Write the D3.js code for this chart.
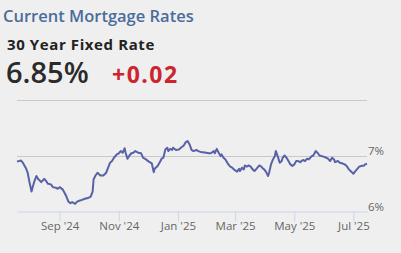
<!DOCTYPE html>
<html>
<head>
<meta charset="utf-8">
<script src="https://cdn.jsdelivr.net/npm/d3@7"></script>
<style>
  html, body { margin: 0; padding: 0; background: #efefef; }
  svg { display: block; }
</style>
</head>
<body>
<svg id="chart" width="401" height="253"></svg>
<script>
const title = "Current Mortgage Rates";
const subtitle = "30 Year Fixed Rate";
const currentRate = "6.85%";
const change = "+0.02";

const dates = [
  "2024-07-19","2024-07-23","2024-07-25","2024-07-28","2024-07-30","2024-08-01","2024-08-03","2024-08-04",
  "2024-08-06","2024-08-08","2024-08-10","2024-08-12","2024-08-13","2024-08-16","2024-08-18","2024-08-20",
  "2024-08-23","2024-08-25","2024-08-28","2024-08-30","2024-09-01","2024-09-04","2024-09-06","2024-09-08",
  "2024-09-10","2024-09-12","2024-09-14","2024-09-17","2024-09-19","2024-09-22","2024-09-24","2024-09-27",
  "2024-10-01","2024-10-03","2024-10-05","2024-10-06","2024-10-08","2024-10-10","2024-10-13","2024-10-16",
  "2024-10-19","2024-10-21","2024-10-23","2024-10-25","2024-10-27","2024-10-30","2024-11-01","2024-11-03",
  "2024-11-05","2024-11-07","2024-11-08","2024-11-10","2024-11-12","2024-11-14","2024-11-16","2024-11-18",
  "2024-11-21","2024-11-24","2024-11-26","2024-11-29","2024-12-02","2024-12-05","2024-12-07","2024-12-08",
  "2024-12-11","2024-12-14","2024-12-15","2024-12-17","2024-12-19","2024-12-21","2024-12-22","2024-12-24",
  "2024-12-26","2024-12-27","2024-12-30","2025-01-02","2025-01-04","2025-01-07","2025-01-09","2025-01-11",
  "2025-01-13","2025-01-15","2025-01-17","2025-01-20","2025-01-22","2025-01-25","2025-01-27","2025-01-30",
  "2025-02-02","2025-02-04","2025-02-07","2025-02-08","2025-02-10","2025-02-12","2025-02-14","2025-02-15",
  "2025-02-17","2025-02-19","2025-02-22","2025-02-24","2025-02-26","2025-03-01","2025-03-03","2025-03-05",
  "2025-03-06","2025-03-08","2025-03-10","2025-03-11","2025-03-13","2025-03-15","2025-03-17","2025-03-19",
  "2025-03-21","2025-03-24","2025-03-26","2025-03-28","2025-03-30","2025-03-31","2025-04-02","2025-04-04",
  "2025-04-05","2025-04-07","2025-04-09","2025-04-11","2025-04-12","2025-04-14","2025-04-16","2025-04-18",
  "2025-04-19","2025-04-21","2025-04-23","2025-04-25","2025-04-27","2025-04-29","2025-05-01","2025-05-03",
  "2025-05-05","2025-05-07","2025-05-10","2025-05-12","2025-05-14","2025-05-16","2025-05-19","2025-05-20",
  "2025-05-22","2025-05-23","2025-05-25","2025-05-27","2025-05-29","2025-05-31","2025-06-03","2025-06-05",
  "2025-06-07","2025-06-09","2025-06-11","2025-06-12","2025-06-15","2025-06-17","2025-06-19","2025-06-22",
  "2025-06-24","2025-06-26","2025-06-28","2025-06-30","2025-07-01","2025-07-03","2025-07-05","2025-07-07",
  "2025-07-09","2025-07-12","2025-07-13","2025-07-15"
];
const rates = [
  6.89,6.91,6.87,6.78,6.69,6.51,6.35,6.42,
  6.54,6.63,6.57,6.54,6.52,6.58,6.54,6.49,
  6.48,6.43,6.42,6.40,6.43,6.39,6.33,6.26,
  6.17,6.14,6.16,6.13,6.17,6.19,6.20,6.22,
  6.24,6.26,6.35,6.57,6.64,6.69,6.64,6.64,
  6.69,6.78,6.87,6.90,6.96,7.02,7.04,7.08,
  7.05,7.13,7.05,6.94,7.00,7.04,7.05,7.08,
  7.05,7.04,6.96,6.93,6.89,6.86,6.70,6.76,
  6.81,6.90,6.94,6.96,7.11,7.14,7.08,7.12,
  7.10,7.14,7.10,7.11,7.14,7.18,7.24,7.26,
  7.20,7.10,7.08,7.10,7.08,7.06,7.06,7.05,
  7.04,7.04,7.08,7.04,7.12,7.05,6.99,7.02,
  6.96,6.93,6.84,6.80,6.78,6.73,6.71,6.76,
  6.72,6.78,6.75,6.82,6.80,6.82,6.80,6.75,
  6.72,6.78,6.82,6.80,6.76,6.75,6.70,6.63,
  6.69,6.84,6.93,6.99,7.08,6.98,6.87,6.90,
  6.96,7.00,6.96,6.90,6.84,6.81,6.84,6.90,
  6.90,6.88,6.92,6.90,6.94,6.93,6.99,6.99,
  7.04,7.08,7.05,7.00,6.99,6.98,6.96,6.94,
  6.90,6.96,6.93,6.88,6.90,6.87,6.86,6.84,
  6.81,6.76,6.72,6.69,6.67,6.72,6.76,6.80,
  6.81,6.82,6.84,6.85
];
const xTickDates = ["2024-09-01","2024-11-01","2025-01-01","2025-03-01","2025-05-01","2025-07-01"];
const xTickLabels = ["Sep '24","Nov '24","Jan '25","Mar '25","May '25","Jul '25"];
const yTickValues = [6, 7, 8];
const yTickLabels = ["6%", "7%", ""];

const parse = d3.utcParse("%Y-%m-%d");
const data = dates.map((d, i) => ({ date: parse(d), rate: rates[i] }));

const svg = d3.select("#chart");
const font = "'Open Sans', sans-serif";

// Header texts
svg.append("text").attr("x", 3).attr("y", 22)
  .attr("font-family", font).attr("font-size", 16.5).attr("font-weight", 600).attr("fill", "#4a6d9c")
  .text(title);
svg.append("text").attr("x", 7).attr("y", 50)
  .attr("font-family", font).attr("font-size", 15).attr("font-weight", "bold").attr("fill", "#222")
  .attr("letter-spacing", 0.6)
  .text(subtitle);
svg.append("text").attr("x", 6).attr("y", 83)
  .attr("font-family", font).attr("font-size", 29).attr("font-weight", 600).attr("fill", "#2a2a2a")
  .text(currentRate);
svg.append("text").attr("x", 112).attr("y", 83)
  .attr("font-family", font).attr("font-size", 23).attr("font-weight", "bold").attr("fill", "#cc2530")
  .attr("letter-spacing", 1.5)
  .text(change);

const x = d3.scaleUtc()
  .domain(d3.extent(data, d => d.date))
  .range([17, 367]);
const y = d3.scaleLinear().domain([6, 8]).range([211, 100]);

// Gridlines
svg.append("g").selectAll("line")
  .data(yTickValues.filter(v => v !== 6))
  .join("line")
  .attr("x1", 17).attr("x2", 367)
  .attr("y1", d => Math.round(y(d)) + 0.5).attr("y2", d => Math.round(y(d)) + 0.5)
  .attr("stroke", "#c8c8c8").attr("stroke-width", 1);

// x axis
const xAxis = d3.axisBottom(x)
  .tickValues(xTickDates.map(parse))
  .tickFormat((d, i) => xTickLabels[i])
  .tickSizeInner(10).tickSizeOuter(0).tickPadding(0);
const gx = svg.append("g").attr("transform", "translate(0,211.5)").call(xAxis);
gx.select(".domain").attr("stroke", "#ccd6eb");
gx.selectAll(".tick line").attr("stroke", "#ccd6eb");
gx.selectAll(".tick text").attr("fill", "#666").attr("font-family", font).attr("font-size", 11.5);

// y axis labels on right
const yAxis = d3.axisRight(y)
  .tickValues(yTickValues)
  .tickFormat((d, i) => yTickLabels[i])
  .tickSize(0).tickPadding(1);
const gy = svg.append("g").attr("transform", "translate(367,0)").call(yAxis);
gy.select(".domain").remove();
gy.selectAll(".tick text").attr("fill", "#666").attr("font-family", font).attr("font-size", 11.5)
  .attr("dy", "-0.05em");

// Line
const line = d3.line().x(d => x(d.date)).y(d => y(d.rate)).curve(d3.curveLinear);
svg.append("path").datum(data)
  .attr("fill", "none").attr("stroke", "#5862a6").attr("stroke-width", 2)
  .attr("stroke-linejoin", "round")
  .attr("d", line);
</script>
</body>
</html>
